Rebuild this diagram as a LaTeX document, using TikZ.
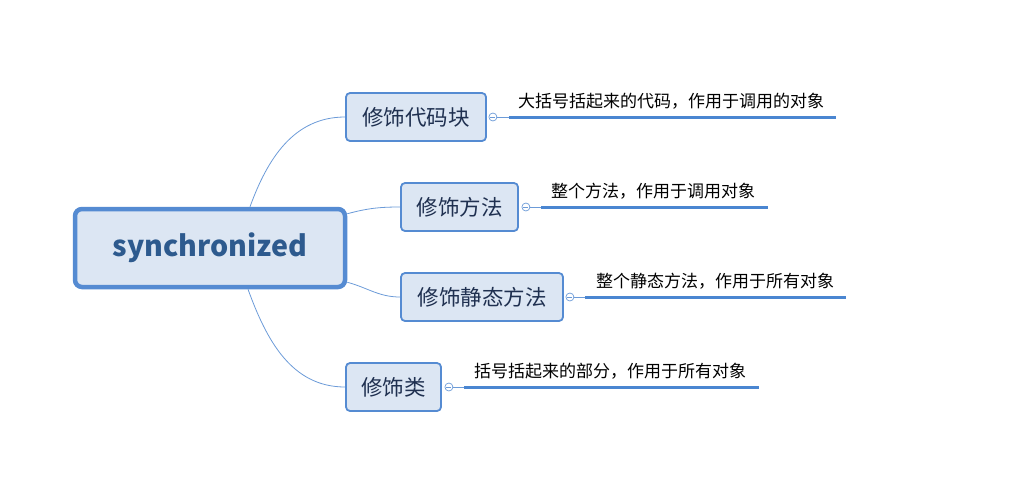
\documentclass[tikz,border=0pt]{standalone}
\usepackage{fontspec}
\setmainfont{Noto Sans CJK SC}
\usetikzlibrary{calc}
\definecolor{bord}{HTML}{558BD2}
\definecolor{fillc}{HTML}{DCE6F3}
\definecolor{roottxt}{HTML}{2D5A8E}
\definecolor{childtxt}{HTML}{1F3050}
\definecolor{conn}{HTML}{6C9BD8}
\definecolor{uline}{HTML}{4A86D1}
\tikzset{
  rootbox/.style={draw=bord, fill=fillc, line width=4.5pt, rounded corners=7pt,
    minimum width=270pt, minimum height=78pt, inner sep=0pt,
    font=\fontsize{28.6}{32}\selectfont\bfseries, text=roottxt},
  childbox/.style={draw=bord, fill=fillc, line width=1.8pt, rounded corners=4pt,
    minimum height=48pt, inner sep=0pt, font=\fontsize{21.5}{24}\selectfont, text=childtxt},
  conline/.style={draw=conn, line width=0.8pt},
  knob/.style={draw=conn, fill=white, circle, minimum size=8pt, inner sep=0pt, line width=0.7pt},
  thinl/.style={draw=conn, line width=0.7pt},
  uln/.style={draw=uline, line width=3pt},
  lbl/.style={anchor=base west, inner sep=0pt, font=\fontsize{17}{20}\selectfont, text=black}
}
\begin{document}
\begin{tikzpicture}[x=1pt,y=-1pt]
\useasboundingbox (0,0) rectangle (1019,485);
\node[rootbox] (root) at (210,248) {synchronized};
\node[childbox, minimum width=140pt] (c1) at (416,117) {修饰代码块};
\node[childbox, minimum width=117pt] (c2) at (459.5,207) {修饰方法};
\node[childbox, minimum width=162pt] (c3) at (482,297) {修饰静态方法};
\node[childbox, minimum width=95pt] (c4) at (393.5,387) {修饰类};

\draw[conline] ($(root.north)+(40,0)$) to[out=70,in=180] (c1.west);
\draw[conline] ($(root.north east)+(0,7)$) to[out=15,in=180] (c2.west);
\draw[conline] ($(root.south east)+(0,-7)$) to[out=-15,in=180] (c3.west);
\draw[conline] ($(root.south)+(38,0)$) to[out=-70,in=180] (c4.west);

% branch 1
\node[knob] (k1) at ($(c1.east)+(6,0)$) {};
\draw[thinl] ($(k1.center)+(-2.5,0)$) -- ($(k1.center)+(2.5,0)$);
\coordinate (u1s) at (509,117); \coordinate (u1e) at (836,117);
\draw[thinl] (k1.east) -- (u1s);
\draw[uln] (u1s) -- (u1e);
\node[lbl] (l1) at (518,107.5) {大括号括起来的代码，作用于调用的对象};
% branch 2
\node[knob] (k2) at ($(c2.east)+(7,0)$) {};
\draw[thinl] ($(k2.center)+(-2.5,0)$) -- ($(k2.center)+(2.5,0)$);
\coordinate (u2s) at (541,207); \coordinate (u2e) at (768,207);
\draw[thinl] (k2.east) -- (u2s);
\draw[uln] (u2s) -- (u2e);
\node[lbl] (l2) at (551,197.5) {整个方法，作用于调用对象};
% branch 3
\node[knob] (k3) at ($(c3.east)+(6,0)$) {};
\draw[thinl] ($(k3.center)+(-2.5,0)$) -- ($(k3.center)+(2.5,0)$);
\coordinate (u3s) at (585,297); \coordinate (u3e) at (846,297);
\draw[thinl] (k3.east) -- (u3s);
\draw[uln] (u3s) -- (u3e);
\node[lbl] (l3) at (596,287.5) {整个静态方法，作用于所有对象};
% branch 4
\node[knob] (k4) at ($(c4.east)+(7,0)$) {};
\draw[thinl] ($(k4.center)+(-2.5,0)$) -- ($(k4.center)+(2.5,0)$);
\coordinate (u4s) at (464,387); \coordinate (u4e) at (759,387);
\draw[thinl] (k4.east) -- (u4s);
\draw[uln] (u4s) -- (u4e);
\node[lbl] (l4) at (474,377.5) {括号括起来的部分，作用于所有对象};
\end{tikzpicture}
\end{document}
